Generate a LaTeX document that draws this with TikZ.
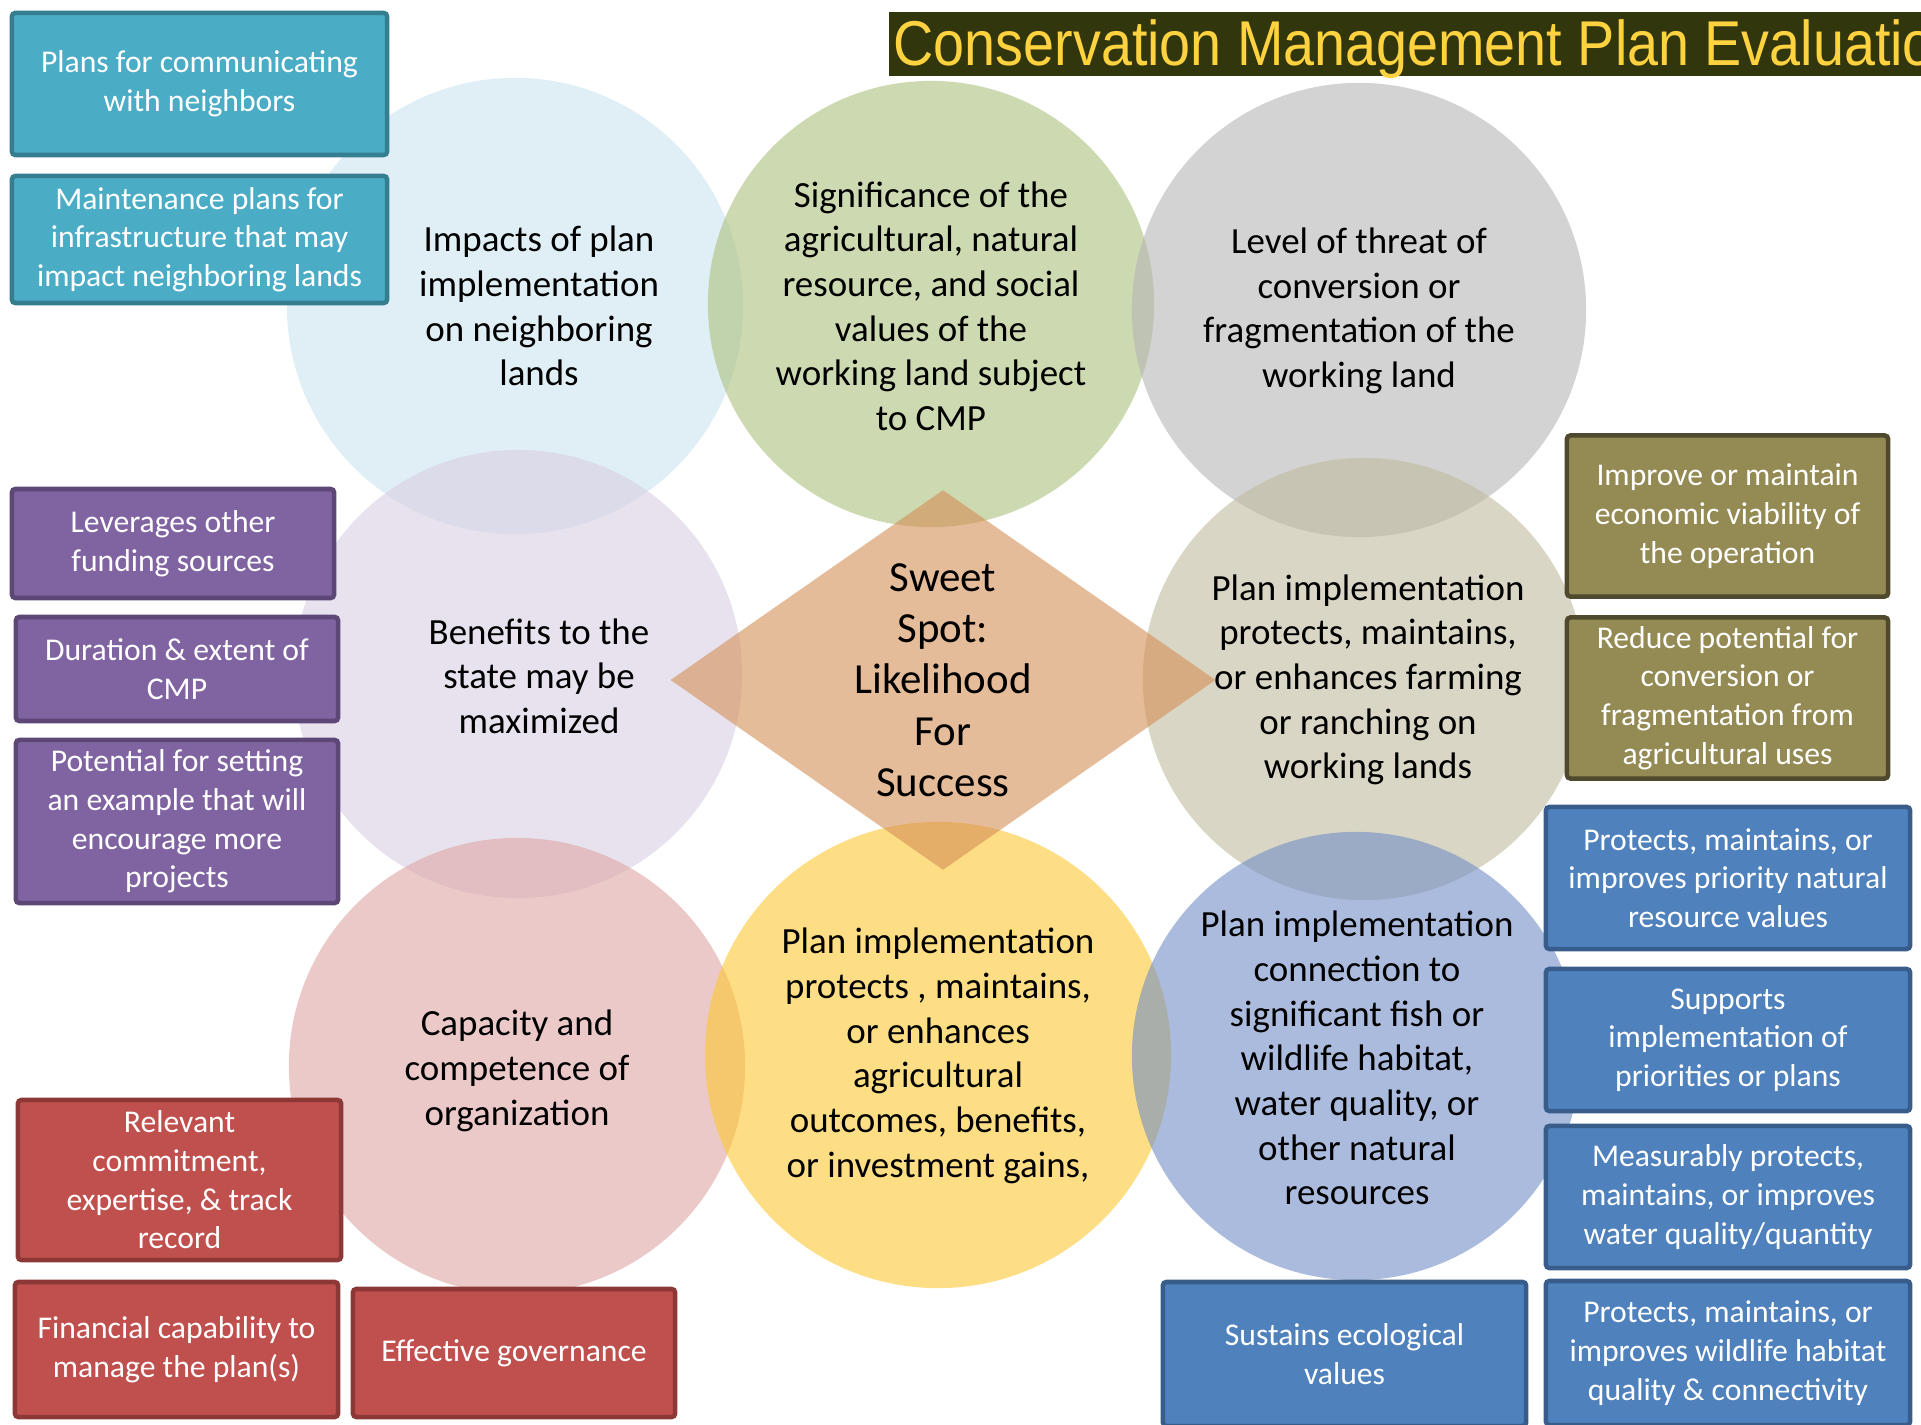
\documentclass[tikz,border=0pt]{standalone}
\usepackage{fontspec}
\setmainfont{Carlito}
\newfontfamily\titlefont[FakeStretch=0.88]{Liberation Sans}
\usetikzlibrary{shapes.geometric}

\definecolor{titlebg}{HTML}{32360D}
\definecolor{titletext}{HTML}{FFD23F}
\definecolor{cblue}{HTML}{CBE4EE}
\definecolor{cgreen}{HTML}{ACC07D}
\definecolor{cgray}{HTML}{B6B6B6}
\definecolor{clav}{HTML}{D9CFE3}
\definecolor{ctan}{HTML}{C0BB9E}
\definecolor{cpink}{HTML}{DEA5A5}
\definecolor{cyellow}{HTML}{FDC832}
\definecolor{cnavy}{HTML}{738EC6}
\definecolor{sweetfill}{HTML}{D48F55}
\definecolor{tealfill}{HTML}{4BACC6}
\definecolor{tealline}{HTML}{357D91}
\definecolor{purpfill}{HTML}{8064A2}
\definecolor{purpline}{HTML}{5C4776}
\definecolor{redfill}{HTML}{C0504D}
\definecolor{redline}{HTML}{8C3836}
\definecolor{olivefill}{HTML}{948A54}
\definecolor{oliveline}{HTML}{4F4A2D}
\definecolor{bluefill}{HTML}{4F81BD}
\definecolor{blueline}{HTML}{385D8A}

\begin{document}
\begin{tikzpicture}[x=0.01cm, y=-0.01cm,
    bubble/.style={circle, inner sep=0pt, fill opacity=0.6},
    bubtext/.style={align=center, text=black, font=\fontsize{10.5}{12.7}\selectfont},
    tag/.style={rectangle, rounded corners=1pt, line width=1.3pt, inner sep=0pt, align=center, text=white, font=\fontsize{9}{11}\selectfont}
]
\useasboundingbox (0,0) rectangle (1921,1425);

% Title
\begin{scope}
\clip (0,0) rectangle (1921,1425);
\fill[titlebg] (889,12) rectangle (1930,76);
\node[anchor=base west, inner sep=0pt, text=titletext, font=\titlefont\fontsize{18}{21}\selectfont] (title) at (893,66) {Conservation Management Plan Evaluation};
\end{scope}

% Circles
\node[bubble, fill=cblue, minimum size=4.56cm] (impact) at (515,306) {};
\node[bubble, fill=cgreen, minimum size=4.46cm] (signif) at (931,304) {};
\node[bubble, fill=cgray, minimum size=4.54cm] (threat) at (1359,310) {};
\node[bubble, fill=clav, minimum size=4.48cm] (benefit) at (518,674) {};
\node[bubble, fill=ctan, minimum size=4.42cm] (farming) at (1364,679) {};
\node[bubble, fill=cpink, minimum size=4.56cm] (capacity) at (517,1066) {};
\node[bubble, fill=cyellow, minimum size=4.66cm] (agri) at (938,1055) {};
\node[bubble, fill=cnavy, minimum size=4.48cm] (habitat) at (1356,1056) {};

% Sweet spot
\node[diamond, inner sep=0pt, minimum width=5.45cm, minimum height=3.8cm, fill=sweetfill, fill opacity=0.6] (spot) at (943,680) {};
\node[align=center, font=\fontsize{12.2}{14.6}\selectfont] (spotT) at (943,680) {Sweet\\Spot:\\Likelihood\\For\\Success};

% Circle texts
\node[bubtext] (impactT) at (539,306) {Impacts of plan\\implementation\\on neighboring\\lands};
\node[bubtext] (signifT) at (931,306) {Significance of the\\agricultural, natural\\resource, and social\\values of the\\working land subject\\to CMP};
\node[bubtext] (threatT) at (1359,311) {Level of threat of\\conversion or\\fragmentation of the\\working land};
\node[bubtext] (benefitT) at (539,676) {Benefits to the\\state may be\\maximized};
\node[bubtext] (farmingT) at (1368,680) {Plan implementation\\protects, maintains,\\or enhances farming\\or ranching on\\working lands};
\node[bubtext] (capacityT) at (517,1071) {Capacity and\\competence of\\organization};
\node[bubtext] (agriT) at (938,1056) {Plan implementation\\protects , maintains,\\or enhances\\agricultural\\outcomes, benefits,\\or investment gains,};
\node[bubtext] (habitatT) at (1357,1058) {Plan implementation\\connection to\\significant fish or\\wildlife habitat,\\water quality, or\\other natural\\resources};

% Neighbors
\node[tag, fill=tealfill, draw=tealline, minimum width=3.75cm, minimum height=1.42cm] (comm) at (199.5,84) {Plans for communicating\\with neighbors};
\node[tag, fill=tealfill, draw=tealline, minimum width=3.75cm, minimum height=1.27cm] (maint) at (199.5,239.5) {Maintenance plans for\\infrastructure that may\\impact neighboring lands};

% State benefits
\node[tag, fill=purpfill, draw=purpline, minimum width=3.22cm, minimum height=1.09cm] (lever) at (173,543.5) {Leverages other\\funding sources};
\node[tag, fill=purpfill, draw=purpline, minimum width=3.22cm, minimum height=1.04cm] (durat) at (177,669) {Duration \& extent of\\CMP};
\node[tag, fill=purpfill, draw=purpline, minimum width=3.22cm, minimum height=1.63cm] (potent) at (177,821.5) {Potential for setting\\an example that will\\encourage more\\projects};

% Organization
\node[tag, fill=redfill, draw=redline, minimum width=3.23cm, minimum height=1.60cm] (relev) at (179.5,1180) {Relevant\\commitment,\\expertise, \& track\\record};
\node[tag, fill=redfill, draw=redline, minimum width=3.23cm, minimum height=1.35cm] (financ) at (176.5,1349.5) {Financial capability to\\manage the plan(s)};
\node[tag, fill=redfill, draw=redline, minimum width=3.22cm, minimum height=1.28cm] (govern) at (514,1353) {Effective governance};

% Farming
\node[tag, fill=olivefill, draw=oliveline, minimum width=3.21cm, minimum height=1.61cm] (econ) at (1727.5,516) {Improve or maintain\\economic viability of\\the operation};
\node[tag, fill=olivefill, draw=oliveline, minimum width=3.21cm, minimum height=1.61cm] (reduce) at (1727.5,698) {Reduce potential for\\conversion or\\fragmentation from\\agricultural uses};

% Natural resources
\node[tag, fill=bluefill, draw=blueline, minimum width=3.64cm, minimum height=1.42cm] (prior) at (1728,878) {Protects, maintains, or\\improves priority natural\\resource values};
\node[tag, fill=bluefill, draw=blueline, minimum width=3.64cm, minimum height=1.42cm] (supp) at (1728,1040) {Supports\\implementation of\\priorities or plans};
\node[tag, fill=bluefill, draw=blueline, minimum width=3.64cm, minimum height=1.42cm] (water) at (1728,1197) {Measurably protects,\\maintains, or improves\\water quality/quantity};
\node[tag, fill=bluefill, draw=blueline, minimum width=3.64cm, minimum height=1.44cm] (wild) at (1728,1353) {Protects, maintains, or\\improves wildlife habitat\\quality \& connectivity};
\node[tag, fill=bluefill, draw=blueline, minimum width=3.63cm, minimum height=1.44cm] (ecolog) at (1344.5,1354) {Sustains ecological\\values};
\end{tikzpicture}
\end{document}
